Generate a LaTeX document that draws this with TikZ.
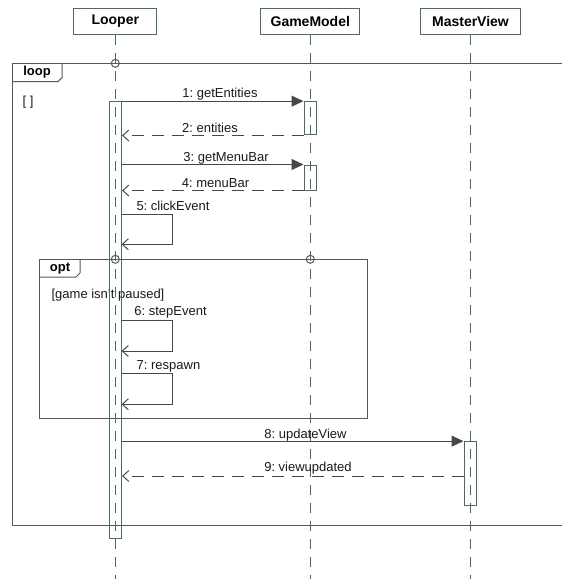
\documentclass[tikz,border=0pt]{standalone}
\usepackage{fontspec}
\setmainfont{Liberation Sans}
\usetikzlibrary{arrows.meta,positioning}
\definecolor{lifeline}{RGB}{74,108,96}
\definecolor{msgline}{RGB}{72,72,72}
\definecolor{frameline}{RGB}{88,88,88}
\frenchspacing

\begin{document}
\begin{tikzpicture}[x=1pt, y=-1pt,
    head/.style={draw=lifeline, line width=1pt, minimum height=26pt,
                 inner sep=0pt, font=\fontsize{14}{16}\selectfont\bfseries},
    life/.style={draw=lifeline, line width=1pt, dash pattern=on 10pt off 8pt},
    actbar/.style={draw=lifeline, line width=1pt, minimum width=12.6pt, inner sep=0pt},
    frame/.style={draw=frameline, line width=1pt},
    tag/.style={font=\fontsize{13}{15}\selectfont\bfseries, inner sep=0pt},
    lbl/.style={font=\fontsize{13}{15}\selectfont, inner sep=0pt, text=black!90},
    call/.style={draw=msgline, line width=1pt, -{Triangle[length=12pt,width=11pt]}},
    reply/.style={draw=msgline, line width=1pt, dash pattern=on 12pt off 8pt,
                  -{Straight Barb[length=6pt,width=11pt]}},
    self/.style={draw=msgline, line width=1pt, -{Straight Barb[length=6pt,width=11pt]}},
    gate/.style={circle, draw=frameline, line width=1pt, minimum size=8pt, inner sep=0pt}
  ]
  \useasboundingbox (0,0) rectangle (562,579);

  % lifeline heads
  \node[head, minimum width=83pt]  (looper) at (115.3,21.3) {Looper};
  \node[head, minimum width=99pt]  (model)  at (310.3,21.3) {GameModel};
  \node[head, minimum width=100pt] (view)   at (470.5,21.3) {MasterView};
  \coordinate (bottom) at (0,579);

  % combined fragments
  \draw[frame] (562,63.3) -- (12,63.3) -- (12,525) -- (562,525);
  \draw[frame] (12,81.7) -- (58,81.7) -- (62,77.7) -- (62,63.3);
  \node[tag] (looptag) at (37,72.5) {loop};
  \node[lbl] (guard) at (28,101.7) {[ ]};

  \draw[frame] (39,259.3) rectangle (367.7,418.3);
  \draw[frame] (39,277) -- (76,277) -- (80,273) -- (80,259.3);
  \node[tag] (opttag) at (60,268.5) {opt};
  \node[lbl] (cond) at (108,295) {[game isn't paused]};

  \foreach \o in {looper,model,view}
    \draw[life] (\o.south) -- (\o.south |- bottom);

  % activations
  \node[actbar, minimum height=436.6pt] (actL)  at (115.3,320) {};
  \node[actbar, minimum height=33.3pt]  (actM1) at (310.3,118.3) {};
  \node[actbar, minimum height=25pt]    (actM2) at (310.3,177.5) {};
  \node[actbar, minimum height=64.3pt]  (actV)  at (470.3,473.8) {};

  % messages
  \draw[call]  (actL.east |- actM1.north) -- (actM1.north west);
  \node[lbl] (m1) at (220,94) {1: getEntities};
  \draw[reply] (actM1.south west) -- (actL.east |- actM1.south);
  \node[lbl] (m2) at (210,128.3) {2: entities};
  \draw[call]  (actL.east |- actM2.north) -- (actM2.north west);
  \node[lbl] (m3) at (226,158) {3: getMenuBar};
  \draw[reply] (actM2.south west) -- (actL.east |- actM2.south);
  \node[lbl] (m4) at (215.5,183) {4: menuBar};

  \coordinate (s5) at (121.6,214);
  \draw[self] (s5) -- ++(50.4,0) |- ++(-50.4,30.3);
  \node[lbl] (m5) at (173,206) {5: clickEvent};
  \coordinate (s6) at (121.6,320);
  \draw[self] (s6) -- ++(50.4,0) |- ++(-50.4,31);
  \node[lbl] (m6) at (170.5,312) {6: stepEvent};
  \coordinate (s7) at (121.6,373.3);
  \draw[self] (s7) -- ++(50.4,0) |- ++(-50.4,31);
  \node[lbl] (m7) at (168.5,366) {7: respawn};

  \draw[call]  (actL.east |- actV.north) -- (actV.north west);
  \node[lbl] (m8) at (305.5,435) {8: updateView};
  \coordinate (r9) at (464,476);
  \draw[reply] (r9) -- (actL.east |- r9);
  \node[lbl] (m9) at (308,467.7) {9: viewupdated};

  % gates
  \node[gate] (g1) at (115.3,63.3) {};
  \node[gate] (g2) at (115.3,259.3) {};
  \node[gate] (g3) at (310.3,259.3) {};
\end{tikzpicture}
\end{document}
